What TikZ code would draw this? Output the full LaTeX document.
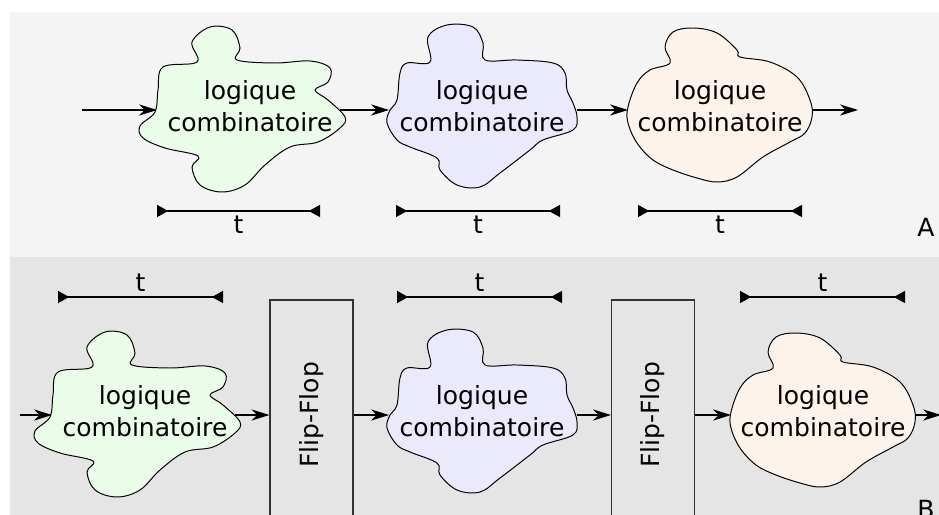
\documentclass[tikz,border=0pt]{standalone}
\usepackage{fontspec}
\setmainfont{DejaVu Sans}
\usetikzlibrary{arrows.meta}
\definecolor{vert}{HTML}{EAFDE8}
\definecolor{lavande}{HTML}{EBE9FC}
\definecolor{peche}{HTML}{FDF3EA}
\definecolor{fondA}{HTML}{F4F4F4}
\definecolor{fondB}{HTML}{E5E5E5}
\tikzset{
  contour/.style={line width=0.7pt},
  texte/.style={align=center,inner sep=0pt,font=\fontsize{17.8}{22.8}\selectfont},
  pics/nuageA/.style={code={
    \draw[contour,fill=#1] plot[smooth cycle,tension=0.6] coordinates {
      (-87,-43) (-53,-48) (-58,-68) (-40,-83) (-18,-80) (-10,-62) (-13,-50)
      (25,-47) (60,-49) (80,-42) (78,-28) (65,-20) (78,-10) (95,7) (90,18)
      (68,32) (40,37) (15,55) (-5,75) (-28,82) (-50,75) (-58,57) (-52,46)
      (-85,38) (-107,28) (-110,16) (-95,2) (-92,-20)};
    \node[texte] (-t) at (0,-4) {logique\\combinatoire};
    \coordinate (-in) at (-93,0);
    \coordinate (-out) at (90,0);
  }},
  pics/nuageB/.style={code={
    \draw[contour,fill=#1] plot[smooth cycle,tension=0.6] coordinates {
      (-52,-48) (-54,-73) (-35,-85) (-9,-83) (1,-67) (3,-50) (35,-50)
      (71,-47) (83,-37) (85,-20) (91,-7) (95,7) (91,20) (61,30) (48,40)
      (18,63) (-2,77) (-25,75) (-42,60) (-45,48) (-72,37) (-85,30)
      (-95,13) (-92,0) (-85,-10) (-82,-37) (-75,-47)};
    \node[texte] (-t) at (0,-4) {logique\\combinatoire};
    \coordinate (-in) at (-93,0);
    \coordinate (-out) at (95,0);
  }},
  pics/nuageC/.style={code={
    \draw[contour,fill=#1] plot[smooth cycle,tension=0.6] coordinates {
      (-50,-47) (-55,-63) (-47,-78) (-27,-82) (-3,-77) (17,-60) (20,-53)
      (50,-48) (77,-33) (90,-10) (92,7) (85,23) (70,32) (43,47) (17,67)
      (-3,72) (-23,68) (-47,60) (-67,50) (-83,33) (-92,13) (-92,-3)
      (-83,-27) (-70,-40)};
    \node[texte] (-t) at (0,-4) {logique\\combinatoire};
    \coordinate (-in) at (-92,0);
    \coordinate (-out) at (92,0);
  }}
}
\begin{document}
\begin{tikzpicture}[x=0.25mm,y=-0.25mm,
    fleche/.style={-{Stealth[length=4.5mm,width=2.8mm,inset=1.4mm]},line width=0.9pt},
    duree/.style={{Triangle[reversed,length=2.8mm,width=3mm]}-{Triangle[reversed,length=2.8mm,width=3mm]},line width=0.9pt},
    ffbox/.style={draw=black!80,line width=0.8pt,minimum width=20.75mm,minimum height=57.5mm,inner sep=0pt,font=\fontsize{17.8}{22.8}\selectfont},
    lettre/.style={anchor=base,font=\fontsize{17.8}{22.8}\selectfont},
    tlabel/.style={font=\fontsize{17.8}{22.8}\selectfont}]
  \useasboundingbox (0,0) rectangle (939,515);
  \fill[fondA] (10,12) rectangle (939,257);
  \fill[fondB] (10,257) rectangle (939,515);

  % A : logique seule
  \pic (b1) at (250,110) {nuageA=vert};
  \pic (b2) at (482,110) {nuageB=lavande};
  \pic (b3) at (720,110) {nuageC=peche};
  \coordinate (entreeA) at (82,110);
  \coordinate (sortieA) at (858,110);
  \draw[fleche] (entreeA) -- (b1-in);
  \draw[fleche] (b1-out) -- (b2-in);
  \draw[fleche] (b2-out) -- (b3-in);
  \draw[fleche] (b3-out) -- (sortieA);

  \coordinate (ta1) at (157,211); \coordinate (tb1) at (320,211);
  \coordinate (ta2) at (396,211); \coordinate (tb2) at (560,211);
  \coordinate (ta3) at (638,211); \coordinate (tb3) at (802,211);
  \draw[duree] (ta1) -- node[tlabel,below] (t1) {t} (tb1);
  \draw[duree] (ta2) -- node[tlabel,below] (t2) {t} (tb2);
  \draw[duree] (ta3) -- node[tlabel,below] (t3) {t} (tb3);
  \node[lettre] (lA) at (926,237) {A};

  % B : avec bascules
  \pic (c1) at (145,415) {nuageA=vert};
  \pic (c2) at (482,415) {nuageB=lavande};
  \pic (c3) at (823,415) {nuageC=peche};
  \node[ffbox] (ff1) at (311.5,415) {\rotatebox{90}{Flip-Flop}};
  \node[ffbox] (ff2) at (653,415) {\rotatebox{90}{Flip-Flop}};
  \coordinate (entreeB) at (20,415);
  \coordinate (sortieB) at (941,415);
  \draw[fleche] (entreeB) -- (c1-in);
  \draw[fleche] (c1-out) -- (ff1.west);
  \draw[fleche] (ff1.east) -- (c2-in);
  \draw[fleche] (c2-out) -- (ff2.west);
  \draw[fleche] (ff2.east) -- (c3-in);
  \draw[fleche] (c3-out) -- (sortieB);

  \coordinate (ua1) at (58,297); \coordinate (ub1) at (223,297);
  \coordinate (ua2) at (397,297); \coordinate (ub2) at (562,297);
  \coordinate (ua3) at (740,297); \coordinate (ub3) at (905,297);
  \draw[duree] (ua1) -- node[tlabel,above] (u1) {t} (ub1);
  \draw[duree] (ua2) -- node[tlabel,above] (u2) {t} (ub2);
  \draw[duree] (ua3) -- node[tlabel,above] (u3) {t} (ub3);
  \node[lettre] (lB) at (926,518) {B};
\end{tikzpicture}
\end{document}
